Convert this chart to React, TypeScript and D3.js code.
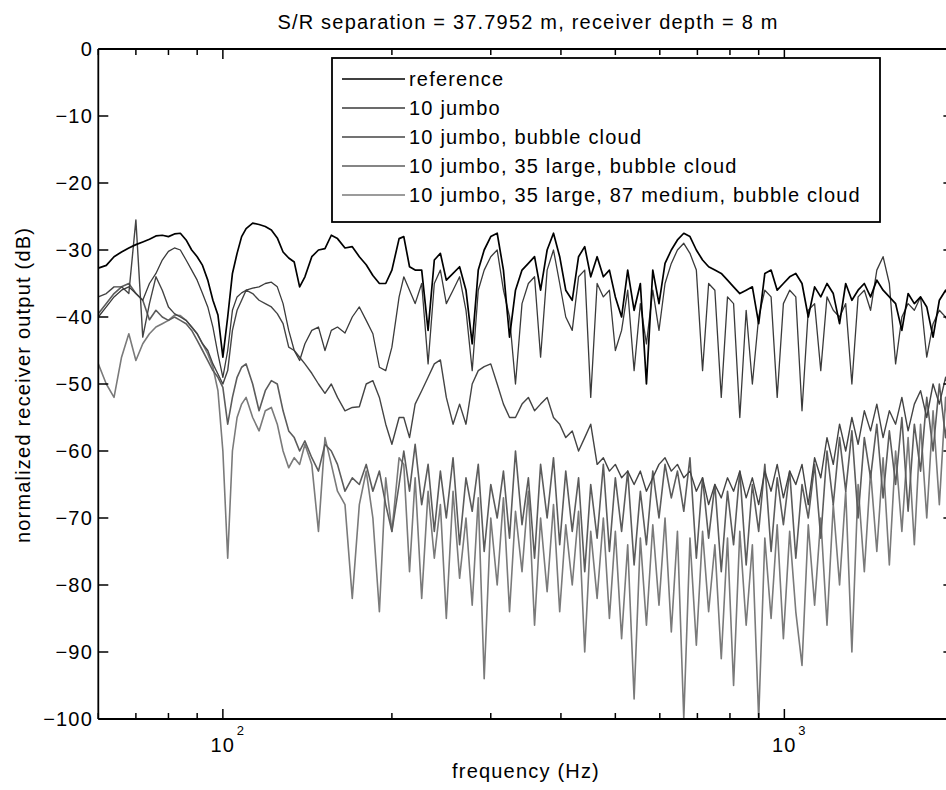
import React from 'react';
import * as d3 from 'd3';

const freqs = [
  60, 62, 64, 66, 68, 70, 72, 74, 76, 78, 80, 82, 84, 86, 88, 90, 92, 94, 96, 98,
  100, 102, 104, 106, 108, 110, 113, 116, 119, 122, 125, 128, 131, 134, 137, 140, 144, 148, 152, 156,
  160, 165, 170, 175, 180, 185, 190, 195, 200, 206,
  210, 215, 220, 226, 232, 238, 244, 250, 257, 264,
  271, 278, 285, 292, 300, 308, 316, 324, 332, 341,
  350, 359, 368, 378, 388, 398, 408, 419, 430, 441,
  452, 464, 476, 488, 500, 513, 526, 540, 554, 568,
  583, 598, 613, 629, 645, 662, 679, 697, 715, 733,
  752, 772, 792, 812, 833, 855, 877, 900, 923, 947,
  971, 996, 1022, 1048, 1075, 1103, 1132, 1161, 1191, 1222,
  1254, 1286, 1319, 1353, 1388, 1424, 1461, 1499, 1538, 1578,
  1619, 1661, 1704, 1748, 1793, 1840, 1888, 1937, 1987, 2000,
];

const reference = [
  -32.7, -32.3, -31, -30.3, -29.7, -29.2, -28.8, -28.4, -27.9, -27.8, -28, -27.6, -27.5, -28.5, -30, -31, -32.3, -34.5, -37.5, -39.7,
  -46, -40, -33.5, -30.5, -28, -26.8, -26, -26.2, -26.5, -27, -28.2, -30.3, -31.2, -31.8, -35.5, -34, -31, -30, -29.8, -27.8,
  -28.3, -29.7, -29.5, -31, -32.2, -33.8, -35, -35, -33, -28.3,
  -28, -32.5, -33, -33, -42, -31.5, -30.5, -34.5, -33.5, -32.5,
  -36, -44, -33, -30, -28, -27.5, -33, -43, -36, -33,
  -32, -31, -36, -30, -27.5, -31, -36, -37.5, -31, -29.5,
  -34, -31, -34, -33, -37, -40, -33, -39, -35, -50,
  -33, -38, -32, -30, -28.5, -27.5, -28, -30, -31.5, -32.5,
  -33, -33.5, -34.5, -35.5, -36.5, -36, -35.5, -41, -33.5, -33,
  -36, -35, -34, -33.5, -35, -40, -35.5, -37, -35, -36.5,
  -41, -35, -37.5, -36, -35, -37, -34.5, -36, -37, -38,
  -42, -36.5, -38, -37, -38.5, -43, -37.5, -36, -38, -38,
];

const jumbo10 = [
  -40, -38.5, -37, -36, -35.5, -36.5, -37.5, -35, -33.5, -31.5, -30.2, -29.7, -30, -31.5, -33, -34.5, -36.5, -38.5, -41.5, -45.5,
  -49, -45, -39, -37, -36.4, -36, -35.7, -35.5, -35, -34.8, -35.5, -38, -42, -45, -46.5, -44, -42, -41.5, -45, -42,
  -41.5, -42.4, -40, -38.5, -40.5, -42.5, -47.5, -48, -44.5, -37,
  -34, -36, -38, -35, -47, -35, -33, -38, -36, -34,
  -39, -48, -36, -33, -31, -30, -36, -40, -50, -38,
  -35, -34, -46, -33, -30, -35, -40, -42, -34, -33,
  -52, -35, -37, -36, -45, -42, -36, -48, -38, -44,
  -36, -42, -35, -32, -30, -29, -30.5, -33, -48, -35,
  -36, -52, -37, -38, -55, -39, -50, -40, -36, -37,
  -52, -38, -36, -37, -54, -39, -38, -48, -37, -39,
  -40, -38, -50, -37, -36, -39, -33, -31, -35, -47,
  -40, -38, -39, -37, -46, -41, -39, -40, -42, -41,
];

const jumboCloud = [
  -37, -36.5, -35.5, -35.5, -36.5, -25.5, -43, -38, -34, -36, -38.5, -39.5, -40, -40.5, -41.5, -42.5, -44, -45, -47, -48.5,
  -50, -48, -42, -39, -37.5, -36, -36.5, -37.5, -38, -38.5, -39.5, -41, -44.5, -45, -46, -47, -48.4, -50, -51.4, -50,
  -52, -54, -53.5, -53.4, -50, -49.5, -52, -56, -59, -55,
  -55, -58, -53, -51, -49, -47, -46.4, -52, -56, -53,
  -56, -50, -48, -47.4, -47, -50, -53, -55, -55, -53,
  -52, -54, -53, -52, -55, -56, -58, -57, -60, -58,
  -56, -62, -61, -63, -62, -64, -63, -65, -63, -66,
  -64, -62, -61, -63, -62, -64, -63, -66, -64, -68,
  -65, -67, -64, -66, -63, -67, -64, -68, -63, -66,
  -62, -67, -63, -65, -62, -68, -61, -64, -58, -62,
  -56, -60, -55, -59, -54, -57, -53, -58, -54, -56,
  -52, -57, -53, -51, -55, -50, -53, -49, -52, -51,
];

const jumboLargeCloud = [
  -39.5, -38, -36.5, -35.5, -35, -36.5, -37.5, -40.4, -39, -40, -40.5, -40, -40.5, -41, -42, -43.5, -45, -46.5, -48, -49,
  -50.5, -56, -52, -49, -47.5, -47, -50, -54, -51, -49.5, -50, -54, -57, -58, -60, -58.5, -61, -63, -59, -60,
  -62, -66, -64, -65, -62, -66, -63, -68, -72, -65,
  -60, -66, -59, -68, -62, -72, -63, -70, -61, -74,
  -64, -69, -62, -75, -65, -70, -63, -73, -60, -71,
  -64, -76, -62, -70, -61, -74, -63, -72, -64, -78,
  -65, -73, -62, -75, -64, -72, -63, -77, -66, -74,
  -63, -70, -62, -67, -63, -69, -61, -76, -64, -73,
  -65, -78, -66, -74, -63, -77, -65, -72, -62, -75,
  -64, -71, -63, -76, -65, -70, -62, -73, -60, -68,
  -58, -66, -57, -70, -58, -64, -56, -67, -57, -65,
  -55, -69, -56, -63, -52, -60, -50, -58, -49, -52,
];

const jumboLargeMediumCloud = [
  -47, -50, -52, -46, -42.5, -46.5, -44, -42.5, -41.5, -41, -40.5, -39.7, -39.8, -40.5, -41.5, -42.5, -44, -45.5, -47.5, -51,
  -60, -76, -60, -55, -53, -52, -55, -57, -54, -53.5, -56, -60, -62.5, -61, -62, -59, -62, -72, -58, -62,
  -66, -68, -82, -68, -63, -70, -84, -64, -72, -61,
  -62, -78, -64, -82, -66, -76, -68, -85, -66, -79,
  -70, -83, -67, -94, -70, -80, -67, -84, -69, -78,
  -66, -86, -70, -81, -68, -84, -71, -80, -69, -90,
  -72, -82, -70, -85, -72, -88, -74, -97, -73, -86,
  -71, -83, -70, -87, -72, -100, -73, -89, -72, -84,
  -74, -91, -73, -95, -72, -86, -74, -100, -73, -85,
  -71, -88, -72, -84, -92, -71, -83, -70, -86, -68,
  -80, -66, -90, -65, -78, -63, -75, -61, -77, -60,
  -72, -58, -74, -56, -70, -54, -68, -52, -65, -60,
];

const seriesNames = [
  'reference',
  '10 jumbo',
  '10 jumbo, bubble cloud',
  '10 jumbo, 35 large, bubble cloud',
  '10 jumbo, 35 large, 87 medium, bubble cloud',
];
const seriesValues = [reference, jumbo10, jumboCloud, jumboLargeCloud, jumboLargeMediumCloud];
const seriesColors = ['#000000', '#3a3a3a', '#444444', '#5c5c5c', '#7a7a7a'];
const seriesWidths = [1.7, 1.3, 1.4, 1.6, 1.6];

const yTicks = [0, -10, -20, -30, -40, -50, -60, -70, -80, -90, -100];
const xMajorTicks = [100, 1000];
const xMinorTicks = [60, 70, 80, 90, 200, 300, 400, 500, 600, 700, 800, 900, 2000];
const titleText = 'S/R separation = 37.7952 m, receiver depth = 8 m';
const xLabel = 'frequency (Hz)';
const yLabel = 'normalized receiver output (dB)';

const FONT = '"Liberation Sans", Arial, Helvetica, sans-serif';

export default function App() {
  const W = 946;
  const H = 790;
  const left = 98.3;
  const right = 953.4;
  const top = 49;
  const bottom = 719;
  const x = d3.scaleLog().domain([60, 2000]).range([left, right]);
  const y = d3.scaleLinear().domain([-100, 0]).range([bottom, top]);
  const line = d3
    .line<number>()
    .x((_, i) => x(freqs[i]))
    .y((d) => y(d));

  const order = [4, 3, 2, 1, 0];
  const legendX = 332;
  const legendY = 58;
  const legendW = 548;
  const legendH = 164;
  const rowGap = 29;

  const txt = { fontFamily: FONT, fontSize: 20, letterSpacing: 1.2, fill: '#000' } as const;

  return (
    <svg
      width={W}
      height={H}
      style={{ position: 'absolute', left: 0, top: 0, background: '#fff' }}
      xmlns="http://www.w3.org/2000/svg"
    >
      <rect x={0} y={0} width={W} height={H} fill="#fff" />
      <defs>
        <clipPath id="plotClip">
          <rect x={left} y={top - 1} width={right - left} height={bottom - top + 2} />
        </clipPath>
      </defs>

      <g clipPath="url(#plotClip)">
        {order.map((k) => (
          <path
            key={k}
            d={line(seriesValues[k]) || ''}
            fill="none"
            stroke={seriesColors[k]}
            strokeWidth={seriesWidths[k]}
            strokeLinejoin="round"
          />
        ))}
      </g>

      {/* axes box */}
      <line x1={left} y1={top} x2={left} y2={bottom} stroke="#000" strokeWidth={1.8} />
      <line x1={left} y1={bottom} x2={right} y2={bottom} stroke="#000" strokeWidth={1.8} />
      <line x1={left} y1={top} x2={right} y2={top} stroke="#000" strokeWidth={1.8} />
      <line x1={right} y1={top} x2={right} y2={bottom} stroke="#000" strokeWidth={1.8} />

      {/* y ticks */}
      {yTicks.map((t) => (
        <g key={'y' + t}>
          <line x1={left} x2={left + 10} y1={y(t)} y2={y(t)} stroke="#000" strokeWidth={1.5} />
          <line x1={right} x2={right - 10} y1={y(t)} y2={y(t)} stroke="#000" strokeWidth={1.5} />
          <text x={93} y={y(t) + 7} textAnchor="end" {...txt}>
            {t === 0 ? '0' : '\u2212' + String(-t)}
          </text>
        </g>
      ))}

      {/* x ticks */}
      {xMajorTicks.map((t) => (
        <g key={'xM' + t}>
          <line x1={x(t)} x2={x(t)} y1={bottom} y2={bottom - 10} stroke="#000" strokeWidth={1.5} />
          <line x1={x(t)} x2={x(t)} y1={top} y2={top + 10} stroke="#000" strokeWidth={1.5} />
          <text x={x(t)} y={752} textAnchor="middle" {...txt}>
            10
          </text>
          <text x={x(t) + 14} y={735} {...txt} fontSize={13} letterSpacing={0}>
            {String(Math.round(Math.log10(t)))}
          </text>
        </g>
      ))}
      {xMinorTicks.map((t) => (
        <g key={'xm' + t}>
          <line x1={x(t)} x2={x(t)} y1={bottom} y2={bottom - 6} stroke="#000" strokeWidth={1.5} />
          <line x1={x(t)} x2={x(t)} y1={top} y2={top + 6} stroke="#000" strokeWidth={1.5} />
        </g>
      ))}

      {/* labels */}
      <text x={528} y={29} textAnchor="middle" {...txt}>
        {titleText}
      </text>
      <text x={526} y={778} textAnchor="middle" {...txt}>
        {xLabel}
      </text>
      <text
        transform={`translate(30, ${385}) rotate(-90)`}
        textAnchor="middle"
        {...txt}
      >
        {yLabel}
      </text>

      {/* legend */}
      <rect x={legendX} y={legendY} width={legendW} height={legendH} fill="#fff" stroke="#000" strokeWidth={1.8} />
      {seriesNames.map((name, i) => {
        const ry = legendY + 21 + i * rowGap;
        return (
          <g key={name}>
            <line
              x1={legendX + 10}
              x2={legendX + 73}
              y1={ry}
              y2={ry}
              stroke={seriesColors[i]}
              strokeWidth={seriesWidths[i]}
            />
            <text x={legendX + 77} y={ry + 7} {...txt}>
              {name}
            </text>
          </g>
        );
      })}
    </svg>
  );
}
